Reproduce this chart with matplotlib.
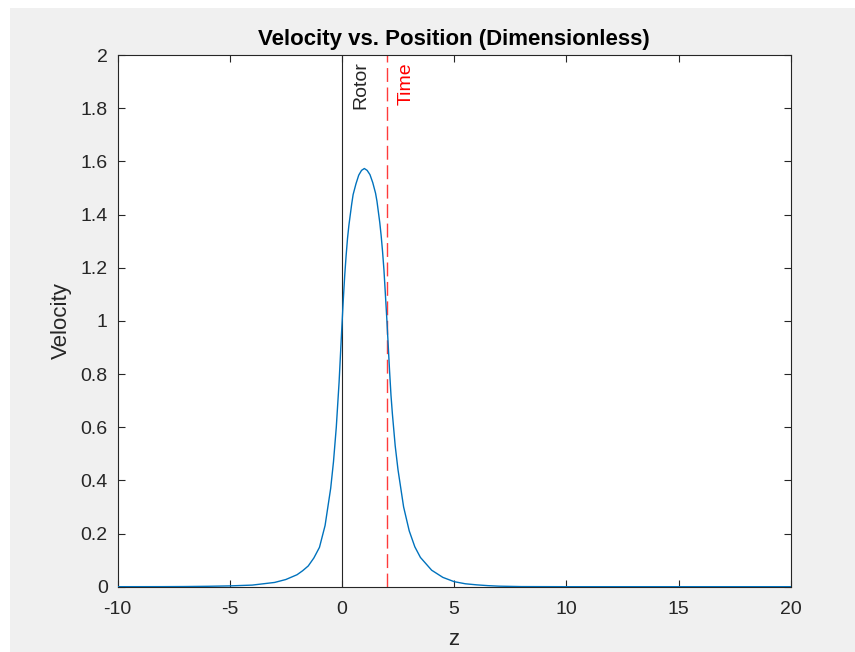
import matplotlib
matplotlib.use("Agg")
import matplotlib.pyplot as plt
from matplotlib.patches import Rectangle

plt.rcParams['font.family'] = ['Liberation Sans', 'DejaVu Sans']

# Data
z = [-10, -8, -7, -6, -5, -4, -3.5, -3, -2.5, -2, -1.75, -1.5, -1.25, -1.0,
     -0.75, -0.5, -0.375, -0.25, -0.125, -0.0625, 0.0, 0.0625, 0.125, 0.1875,
     0.25, 0.3125, 0.375, 0.4375, 0.5, 0.625, 0.75, 0.875,
     1.0, 1.125, 1.25, 1.375, 1.5, 1.5625, 1.625, 1.6875, 1.75, 1.8125, 1.875,
     1.9375, 2.0, 2.0625, 2.125, 2.1875, 2.25, 2.375, 2.5, 2.75,
     3.0, 3.25, 3.5, 4.0, 4.5, 5.0, 5.5, 6.0, 6.5, 7.0, 8.0, 10, 15, 20]
velocity = [0.0, 0.0002, 0.0006, 0.0015, 0.003, 0.006, 0.011, 0.016, 0.027,
            0.045, 0.060, 0.078, 0.108, 0.148, 0.23, 0.37, 0.47, 0.60, 0.77,
            0.875, 0.98, 1.08, 1.17, 1.245, 1.31, 1.36, 1.40, 1.44, 1.475,
            1.515, 1.548, 1.566,
            1.573, 1.566, 1.550, 1.52, 1.480, 1.45, 1.41, 1.37, 1.32, 1.26,
            1.19, 1.10, 1.01, 0.91, 0.81, 0.72, 0.65, 0.53, 0.44, 0.30,
            0.21, 0.15, 0.11, 0.062, 0.035, 0.019, 0.011, 0.007, 0.004, 0.002,
            0.0004, 0.0, 0.0, 0.0]
rotor_z = 0.0
time_z = 2.0
xticks = [-10, -5, 0, 5, 10, 15, 20]
yticks = [0, 0.2, 0.4, 0.6, 0.8, 1.0, 1.2, 1.4, 1.6, 1.8, 2.0]
ytick_labels = ['0', '0.2', '0.4', '0.6', '0.8', '1', '1.2', '1.4', '1.6', '1.8', '2']

W, H = 855, 652
fig = plt.figure(figsize=(W / 100, H / 100), dpi=100, facecolor='white')
fig.patches.append(Rectangle((10 / W, 0), 1, 1 - 8 / H, transform=fig.transFigure,
                             facecolor='#f0f0f0', edgecolor='none', zorder=-10))

ax = fig.add_axes([117.5 / W, 1 - 586.7 / H, (790.7 - 117.5) / W, (586.7 - 55) / H])
ax.set_facecolor('white')

ax.plot(z, velocity, color='#0072BD', lw=1.0, zorder=3)
ax.axvline(rotor_z, color='#262626', lw=0.8, zorder=2)
tl, = ax.plot([time_z, time_z], [0, 2], color='#ff3b3b', lw=1.0, zorder=2)
tl.set_dashes([10, 4])

ax.text(0.86, 1.978, 'Rotor', rotation=90, ha='center', va='top', fontsize=14,
        color='#262626')
ax.text(2.86, 1.972, 'Time', rotation=90, ha='center', va='top', fontsize=14,
        color='#ff0000')

ax.set_xlim(-10, 20)
ax.set_ylim(0, 2)
ax.set_xticks(xticks)
ax.set_xticklabels([str(t) for t in xticks])
ax.set_yticks(yticks)
ax.set_yticklabels(ytick_labels)
ax.tick_params(direction='in', top=True, right=True, length=5, width=0.8,
               labelsize=14, colors='#262626')
ax.tick_params(axis='x', pad=10)
ax.tick_params(axis='y', pad=7)
for s in ax.spines.values():
    s.set_color('#262626')
    s.set_linewidth(0.8)

ax.set_xlabel('z', fontsize=16, color='#262626', labelpad=8)
ax.set_ylabel('Velocity', fontsize=16, color='#262626', labelpad=6)
ax.set_title('Velocity vs. Position (Dimensionless)', fontsize=16,
             fontweight='bold', color='#000000', pad=7)

fig.savefig('out.png', dpi=100, facecolor=fig.get_facecolor())
